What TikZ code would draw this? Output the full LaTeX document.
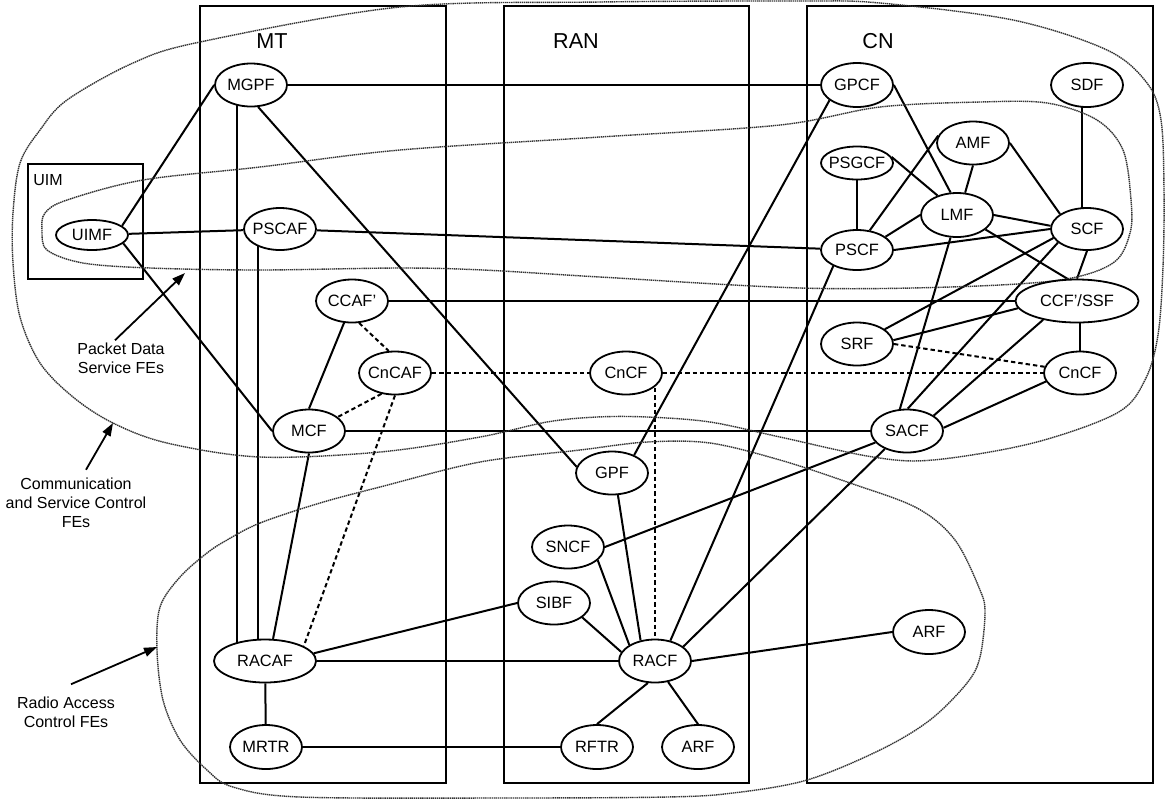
\documentclass[tikz,border=0pt]{standalone}
\usepackage{fontspec}
\setmainfont{Liberation Sans}
\usetikzlibrary{arrows.meta,shapes.geometric,backgrounds}
\tikzset{
  fe/.style      = {draw=black, ellipse, line width=0.9pt, fill=white,
                    inner sep=0pt, inner xsep=-4pt, minimum width=36pt,
                    minimum height=21.5pt, font=\fontsize{8.2}{9.8}\selectfont},
  conn/.style    = {draw=black, line width=1pt},
  dconn/.style   = {draw=black, line width=1pt, dash pattern=on 2.2pt off 1.5pt},
  netbox/.style  = {draw=black, line width=1pt},
  region/.style  = {draw=black!80, line width=0.7pt, dash pattern=on 0.7pt off 0.35pt},
  title/.style   = {font=\fontsize{10.8}{12.9}\selectfont},
  note/.style    = {font=\fontsize{8}{9.5}\selectfont, align=center, inner sep=1pt},
  pointer/.style = {-{Triangle[length=6.5pt,width=4.5pt]}, draw=black, line width=0.9pt},
}

\begin{document}
\begin{tikzpicture}[x=0.5pt,y=-0.5pt]
  \useasboundingbox (0,0) rectangle (1167,805);
  % domains
  \draw[netbox] (200,6) rectangle (446,783);
  \draw[netbox] (504,6) rectangle (749,783);
  \draw[netbox] (807,6) rectangle (1153,783);
  \draw[netbox] (28,164) rectangle (143,279);
  \node[title] (mtlab)  at (272,41) {MT};
  \node[title] (ranlab) at (576,41) {RAN};
  \node[title] (cnlab)  at (878,41) {CN};
  \node[note] (uimlab) at (48,180) {UIM};
  % FE groups
  \draw[region] plot[smooth cycle, tension=0.55] coordinates {
    (200,42) (400,7) (600,2) (800,1) (880,3) (1013,20) (1107,50) (1147,83)
    (1161,120) (1164,190) (1163,267) (1158,335) (1145,380) (1117,413)
    (1033,443) (933,460) (873,457) (780,437) (710,422) (647,417) (597,417)
    (547,422) (480,437) (380,452) (260,457) (167,443) (113,423) (73,397)
    (40,363) (20,317) (13,263) (13,213) (20,163) (40,130) (67,100) (133,63)};
  \draw[region] plot[smooth cycle, tension=0.55] coordinates {
    (42,230) (47,250) (83,263) (150,268) (260,270) (400,268) (483,270)
    (600,277) (800,288) (950,287) (1060,280) (1113,263) (1130,233)
    (1131,200) (1123,150) (1097,120) (1047,103) (980,102) (880,107)
    (780,125) (600,137) (400,150) (260,167) (143,180) (67,200) (45,213)};
  \draw[region] plot[smooth cycle, tension=0.55] coordinates {
    (227,540) (260,523) (320,503) (380,487) (480,462) (580,450) (647,442)
    (710,443) (780,460) (850,483) (917,508) (955,540) (980,590) (985,613)
    (980,657) (967,683) (930,720) (880,750) (807,780) (733,793) (667,797)
    (500,798) (300,797) (233,787) (207,770) (180,740) (163,700) (157,650)
    (160,607) (180,577) (207,553)};
  % group labels
  \node[note] (pdlabel) at (121,358) {Packet Data\\Service FEs};
  \node[note] (cslabel) at (76,503) {Communication\\and Service Control\\FEs};
  \node[note] (ralabel) at (66,712) {Radio Access\\Control FEs};
  \coordinate (pdtip) at (185,273);
  \coordinate (cstip) at (113,423);
  \coordinate (ratip) at (157,647);
  \draw[pointer] ([xshift=-3pt]pdlabel.north) -- (pdtip);
  \draw[pointer] ([xshift=5pt,yshift=3pt]cslabel.north) -- (cstip);
  \draw[pointer] ([xshift=2.5pt,yshift=5pt]ralabel.north) -- (ratip);
  % UIM and MT
  \node[fe, minimum height=15pt] (uimf) at (92,235) {UIMF};
  \node[fe] (mgpf)  at (251,85)  {MGPF};
  \node[fe, minimum height=21pt] (pscaf) at (280,229) {PSCAF};
  \node[fe] (ccaf)  at (352,301) {CCAF’};
  \node[fe] (cncaf) at (395,373) {CnCAF};
  \node[fe] (mcf)   at (309,431) {MCF};
  \node[fe, minimum width=51pt] (racaf) at (265,661) {RACAF};
  \node[fe, minimum height=22pt] (mrtr) at (266,747) {MRTR};
  % RAN
  \node[fe] (cncfran) at (626,373) {CnCF};
  \node[fe] (gpf)     at (612,473) {GPF};
  \node[fe] (sncf)    at (568,547) {SNCF};
  \node[fe] (sibf)    at (554,603) {SIBF};
  \node[fe] (racf)    at (655,661) {RACF};
  \node[fe, minimum height=22pt] (rftr)   at (597,747) {RFTR};
  \node[fe, minimum height=22pt] (arfran) at (698,747) {ARF};
  % CN
  \node[fe, minimum height=22pt] (gpcf) at (857,85)  {GPCF};
  \node[fe, minimum height=22pt] (sdf)  at (1087,85) {SDF};
  \node[fe, minimum height=16.5pt] (psgcf) at (857,163) {PSGCF};
  \node[fe] (amf)   at (973,143)  {AMF};
  \node[fe, minimum height=22pt] (lmf) at (957,215) {LMF};
  \node[fe, minimum height=21pt] (scf) at (1087,229) {SCF};
  \node[fe, minimum height=20pt] (pscf) at (857,250) {PSCF};
  \node[fe, minimum width=61.5pt] (ccfssf) at (1077,301) {CCF’/SSF};
  \node[fe] (srf)    at (857,344)  {SRF};
  \node[fe] (cncfcn) at (1080,373) {CnCF};
  \node[fe] (sacf)   at (907,431)  {SACF};
  \node[fe, minimum height=22pt] (arfcn) at (929,632) {ARF};

  \begin{pgfonlayer}{background}
    % MT links
    \draw[conn] (uimf.17) -- (mgpf.west);
    \draw[conn] (uimf) -- (pscaf);
    \draw[conn] (uimf.345) -- (mcf.west);
    \draw[conn] (mgpf) -- (gpcf);
    \draw[conn] ([xshift=-7pt]mgpf.center) -- ([xshift=-14pt]racaf.center);
    \draw[conn] ([xshift=-11pt]pscaf.center) -- ([xshift=-3.5pt]racaf.center);
    \draw[conn] (mgpf.288) -- (gpf.170);
    \draw[conn] (pscaf) -- (pscf);
    \draw[conn] (ccaf) -- (ccfssf);
    \draw[conn] (mcf.north) -- (ccaf.250);
    \draw[conn] (mcf) -- (sacf);
    \draw[conn] (mcf.south) -- (racaf.70);
    \draw[conn] (racaf) -- (mrtr);
    \draw[conn] (racaf) -- (racf);
    \draw[conn] (racaf.9) -- (sibf.west);
    \draw[conn] (mrtr) -- (rftr);
    % dashed links
    \draw[dconn] (ccaf.288) -- (cncaf.106);
    \draw[dconn] (cncaf.237) -- (mcf.26);
    \draw[dconn] (cncaf.south) -- (racaf.21);
    \draw[dconn] (cncaf) -- (cncfran);
    \draw[dconn] (cncfran) -- (cncfcn);
    \draw[dconn] (cncfran.center -| racf.center) -- (racf.center);
    \draw[dconn] (srf.east) -- (cncfcn.170);
    % RAN links
    \draw[conn] (gpf.285) -- (racf.125);
    \draw[conn] (sncf.336) -- (racf.148);
    \draw[conn] (sibf.333) -- (racf.165);
    \draw[conn] (racf.252) -- (rftr.north);
    \draw[conn] (racf.302) -- (arfran.north);
    \draw[conn] (racf.east) -- (arfcn.west);
    \draw[conn] (sncf.east) -- (sacf.200);
    % CN links
    \draw[conn] (gpcf.209) -- (gpf.39);
    \draw[conn] (gpcf.east) -- (lmf.106);
    \draw[conn] (psgcf) -- (pscf);
    \draw[conn] (psgcf.10) -- (lmf.135);
    \draw[conn] (amf.south) -- (lmf.70);
    \draw[conn] (amf.168) -- (pscf.57);
    \draw[conn] (amf.east) -- (scf.151);
    \draw[conn] ([xshift=-2.5pt]sdf.center) -- ([xshift=-2.5pt]scf.center);
    \draw[conn] (pscf.25) -- (lmf.west);
    \draw[conn] (lmf.east) -- (scf.175);
    \draw[conn] (pscf.east) -- (scf.west);
    \draw[conn] (lmf.333) -- (ccfssf.113);
    \draw[conn] (lmf.254) -- (sacf.108);
    \draw[conn] (srf.28) -- (scf.195);
    \draw[conn] (sacf.88) -- (scf.205);
    \draw[conn] (scf.south) -- (ccfssf.north);
    \draw[conn] (ccfssf.187) -- (srf.6);
    \draw[conn] (ccfssf.209) -- (sacf.30);
    \draw[conn] (ccfssf.center -| cncfcn.center) -- (cncfcn.center);
    \draw[conn] (cncfcn.194) -- (sacf.5);
    \draw[conn] (pscf.214) -- (racf.53);
    \draw[conn] (sacf.219) -- (racf.27);
  \end{pgfonlayer}
\end{tikzpicture}
\end{document}
